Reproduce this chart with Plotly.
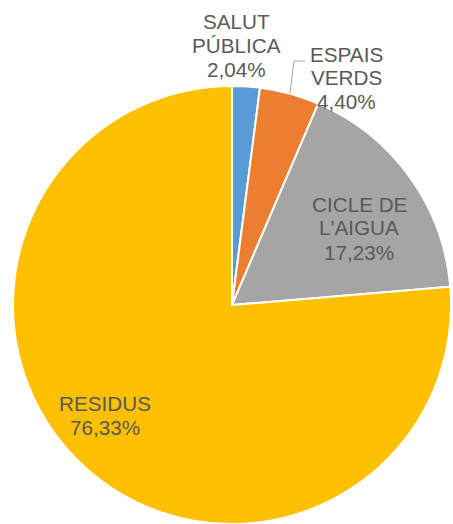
import math
import plotly.graph_objects as go

# Budget share per service area
categories = ["SALUT PÚBLICA", "ESPAIS VERDS", "CICLE DE L'AIGUA", "RESIDUS"]
shares = [2.04, 4.40, 17.23, 76.33]
label_lines = [["SALUT", "PÚBLICA"], ["ESPAIS", "VERDS"], ["CICLE DE", "L'AIGUA"], ["RESIDUS"]]
colors = ["#5B9BD5", "#ED7D31", "#A5A5A5", "#FFC000"]

W, H = 453, 524
CX, CY, R = 232, 306, 220  # pie centre and radius in pixels
TEXT_COLOR = "#595959"
FONT = dict(family="Liberation Sans, Arial, sans-serif", size=20.7, color=TEXT_COLOR)


def px(x):
    return x / W


def py(y):
    return 1 - y / H


fig = go.Figure(
    go.Pie(
        labels=categories,
        values=shares,
        sort=False,
        direction="clockwise",
        rotation=0,
        marker=dict(colors=colors, line=dict(color="white", width=2)),
        textinfo="none",
        hoverinfo="label+percent",
        domain=dict(x=[px(CX - R), px(CX + R)], y=[0, py(CY - R)]),
        showlegend=False,
    )
)

# Label block anchors (centre x, cap-middle y of first line), in pixels
label_anchor = [(236, 21.5), (346, 54), (359, 204), (105, 403)]
LINE_STEP = 24

annotations = []
for lines, share, (ax, ay) in zip(label_lines, shares, label_anchor):
    pct = f"{share:.2f}%".replace(".", ",")
    for i, t in enumerate(lines + [pct]):
        annotations.append(
            dict(
                x=px(ax), y=py(ay + i * LINE_STEP), xref="paper", yref="paper",
                text=t, showarrow=False, xanchor="center", yanchor="middle",
                font=FONT,
            )
        )

# Leader line from the ESPAIS VERDS slice edge to its label
cum = sum(shares[:1]) + shares[1] / 2
ang = math.radians(cum / sum(shares) * 360)
ex, ey = CX + R * math.sin(ang), CY - R * math.cos(ang)
kx, ky = 294, 61
shapes = [
    dict(type="line", xref="paper", yref="paper",
         x0=px(ex), y0=py(ey), x1=px(kx), y1=py(ky),
         line=dict(color="#A6A6A6", width=1)),
    dict(type="line", xref="paper", yref="paper",
         x0=px(kx), y0=py(ky), x1=px(305), y1=py(ky),
         line=dict(color="#A6A6A6", width=1)),
]

fig.update_layout(
    width=W, height=H,
    margin=dict(l=0, r=0, t=0, b=0),
    paper_bgcolor="white",
    plot_bgcolor="white",
    annotations=annotations,
    shapes=shapes,
)

fig.write_html("out.html", config={"displayModeBar": False})
